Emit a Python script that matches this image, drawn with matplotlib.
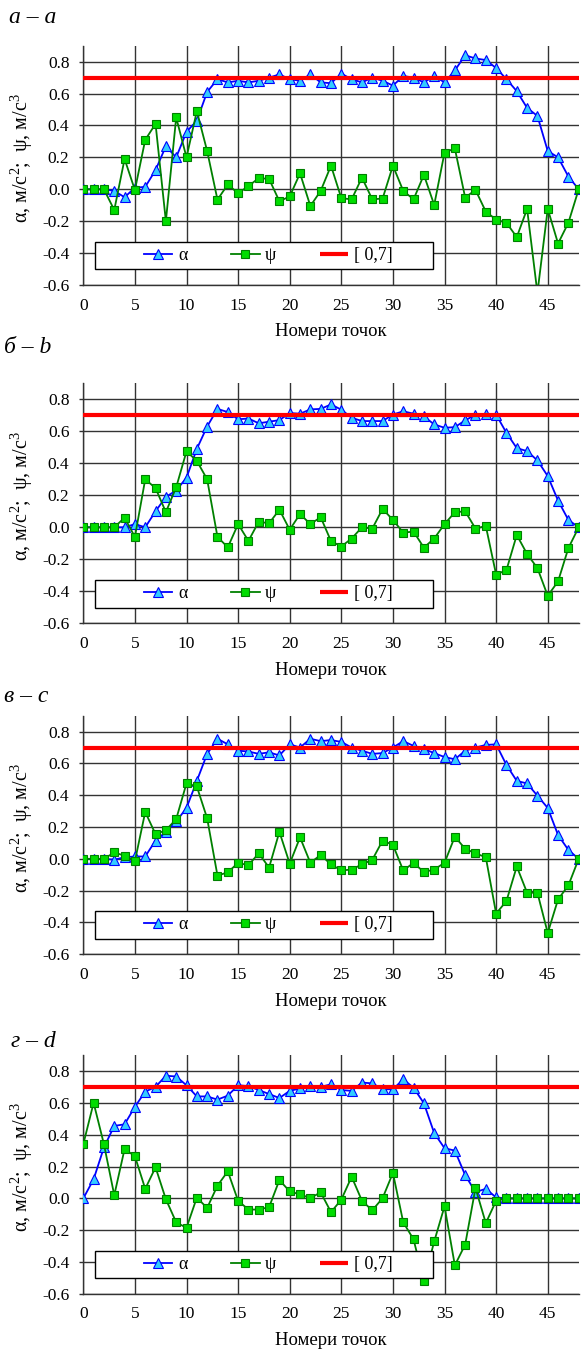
import matplotlib
matplotlib.use("Agg")
import matplotlib.pyplot as plt
from matplotlib.patches import Rectangle
import numpy as np

plt.rcParams['font.family'] = ['Liberation Serif', 'DejaVu Serif']
plt.rcParams['axes.unicode_minus'] = False
plt.rcParams['mathtext.fontset'] = 'custom'
plt.rcParams['mathtext.rm'] = 'Liberation Serif'

# Data (point numbers 0..48)

points = np.arange(49)

alpha_a = [0, 0, 0, -0.01, -0.05, 0.01, 0.015, 0.12, 0.27, 0.20, 0.36, 0.43, 0.61,
           0.69, 0.67, 0.68, 0.67, 0.68, 0.70, 0.72, 0.69, 0.68, 0.72, 0.67, 0.665,
           0.725, 0.69, 0.67, 0.70, 0.68, 0.65, 0.71, 0.70, 0.67, 0.71, 0.67, 0.745,
           0.84, 0.82, 0.81, 0.76, 0.69, 0.615, 0.51, 0.46, 0.24, 0.20, 0.08, 0.0]
psi_a = [0, 0, 0, -0.13, 0.19, -0.005, 0.31, 0.41, -0.20, 0.45, 0.20, 0.49, 0.24,
         -0.065, 0.03, -0.025, 0.02, 0.07, 0.065, -0.075, -0.045, 0.10, -0.105, -0.01,
         0.148, -0.056, -0.063, 0.073, -0.063, -0.058, 0.148, -0.01, -0.063, 0.09,
         -0.098, 0.23, 0.256, -0.052, -0.004, -0.14, -0.19, -0.21, -0.30, -0.123,
         -0.65, -0.123, -0.34, -0.21, 0.0]

alpha_b = [0, 0, 0, 0, 0, 0.02, 0.0, 0.10, 0.19, 0.23, 0.31, 0.49, 0.63, 0.74, 0.72,
           0.675, 0.68, 0.65, 0.66, 0.67, 0.714, 0.71, 0.737, 0.74, 0.768, 0.735,
           0.685, 0.664, 0.664, 0.664, 0.705, 0.725, 0.71, 0.693, 0.643, 0.622, 0.626,
           0.668, 0.704, 0.706, 0.704, 0.59, 0.495, 0.476, 0.418, 0.32, 0.167, 0.046, 0.0]
psi_b = [0, 0, 0, 0, 0.06, -0.06, 0.30, 0.245, 0.095, 0.25, 0.475, 0.415, 0.30, -0.06,
         -0.125, 0.02, -0.085, 0.035, 0.025, 0.11, -0.015, 0.083, 0.02, 0.063, -0.086,
         -0.12, -0.07, 0.0, -0.008, 0.115, 0.046, -0.033, -0.027, -0.127, -0.07, 0.02,
         0.094, 0.10, -0.008, 0.008, -0.296, -0.267, -0.048, -0.167, -0.255, -0.428,
         -0.338, -0.13, 0.0]

alpha_c = [0, 0, 0, -0.005, 0.01, 0.015, 0.015, 0.115, 0.17, 0.235, 0.32, 0.49, 0.66,
           0.755, 0.72, 0.68, 0.675, 0.66, 0.67, 0.65, 0.72, 0.70, 0.755, 0.74, 0.747,
           0.735, 0.70, 0.68, 0.66, 0.665, 0.70, 0.74, 0.71, 0.69, 0.665, 0.64, 0.626,
           0.68, 0.70, 0.716, 0.72, 0.59, 0.49, 0.474, 0.397, 0.32, 0.15, 0.056, 0.0]
psi_c = [0, 0, 0, 0.04, 0.02, -0.015, 0.295, 0.155, 0.18, 0.25, 0.475, 0.455, 0.255,
         -0.105, -0.085, -0.025, -0.04, 0.035, -0.055, 0.17, -0.03, 0.135, -0.025,
         0.025, -0.035, -0.073, -0.067, -0.035, -0.006, 0.115, 0.088, -0.073, -0.025,
         -0.083, -0.067, -0.025, 0.14, 0.063, 0.035, 0.01, -0.344, -0.265, -0.048,
         -0.213, -0.213, -0.466, -0.255, -0.167, 0.0]

alpha_d = [0.0, 0.12, 0.32, 0.455, 0.465, 0.575, 0.67, 0.70, 0.77, 0.765, 0.71, 0.64,
           0.64, 0.62, 0.645, 0.71, 0.705, 0.68, 0.655, 0.63, 0.675, 0.69, 0.705, 0.70,
           0.716, 0.68, 0.675, 0.727, 0.722, 0.685, 0.685, 0.747, 0.695, 0.597, 0.41,
           0.315, 0.30, 0.146, 0.04, 0.06, 0.006, 0, 0, 0, 0, 0, 0, 0, 0]
psi_d = [0.34, 0.60, 0.34, 0.02, 0.31, 0.265, 0.06, 0.195, -0.005, -0.15, -0.185,
         0.005, -0.06, 0.08, 0.17, -0.015, -0.07, -0.07, -0.055, 0.115, 0.044, 0.025,
         0.002, 0.038, -0.086, -0.008, 0.136, -0.015, -0.075, 0.002, 0.16, -0.15,
         -0.257, -0.52, -0.27, -0.05, -0.42, -0.29, 0.065, -0.155, -0.015,
         0, 0, 0, 0, 0, 0, 0, 0]

limit = 0.7

titles = ["а – a", "б – b", "в – c", "г – d"]
alphas = [alpha_a, alpha_b, alpha_c, alpha_d]
psis = [psi_a, psi_b, psi_c, psi_d]

W, H = 581, 1358
fig = plt.figure(figsize=(W / 100, H / 100), dpi=100)

# axes bottom / top in pixels (from figure top) and title positions
ax_px = [(45.7, 285.0), (383.3, 623.3), (715.7, 954.3), (1055.0, 1294.0)]
title_px = [(9, 23), (4, 353), (4, 702), (11, 1047)]
left, right = 83.3, 578.7

for i in range(4):
    top, bot = ax_px[i]
    ax = fig.add_axes([left / W, 1 - bot / H, (right - left) / W, (bot - top) / H])

    ax.plot(points, alphas[i], color="#0000ff", lw=1.3, marker="^", ms=6.5,
            mfc="#33ccff", mec="#0000ff", mew=0.8, label="α", zorder=3)
    ax.plot(points, psis[i], color="#008000", lw=1.3, marker="s", ms=5.5,
            mfc="#00dd00", mec="#008000", mew=0.8, label="ψ", zorder=3)
    ax.plot([points[0], points[-1]], [limit, limit], color="#ff0000", lw=3.0,
            label="[ 0,7]", zorder=4, solid_capstyle="butt")

    ax.set_xlim(0, 48)
    ax.set_ylim(-0.6, 0.9)
    ax.set_xticks(np.arange(0, 46, 5))
    ax.set_yticks(np.arange(-0.6, 0.81, 0.2))
    ax.set_yticklabels([f"{v:.1f}" for v in np.arange(-0.6, 0.81, 0.2)])
    ax.grid(True, color="#333333", lw=1.0, zorder=1)
    ax.set_axisbelow(True)
    for s in ["top", "right"]:
        ax.spines[s].set_visible(False)
    for s in ["left", "bottom"]:
        ax.spines[s].set_color("#333333")
        ax.spines[s].set_linewidth(1.0)
    ax.tick_params(axis="y", length=3, width=1.0, color="#333333", pad=7, labelsize=12.5)
    ax.tick_params(axis="x", length=0, pad=9, labelsize=12.5)

    ax.set_xlabel("Номери точок", fontsize=13.5, labelpad=7)
    ax.set_ylabel("α, м/с$^{2}$;  ψ, м/с$^{3}$", fontsize=14.5)
    ax.yaxis.set_label_coords(-0.098, 0.53)

    ax.add_patch(Rectangle((0.024, 0.0656), 0.681, 0.115, transform=ax.transAxes,
                           facecolor="white", edgecolor="black", lw=1.0, zorder=5))
    ax.legend(loc="center", bbox_to_anchor=(0.373, 0.123), ncol=3, frameon=False,
              fontsize=13, handlelength=1.6, handletextpad=0.3, columnspacing=2.4,
              borderpad=0.2).set_zorder(6)

    tx, ty = title_px[i]
    fig.text(tx / W, 1 - ty / H, titles[i], fontsize=17, style="italic",
             va="baseline", ha="left")

fig.savefig("out.png", dpi=100)
